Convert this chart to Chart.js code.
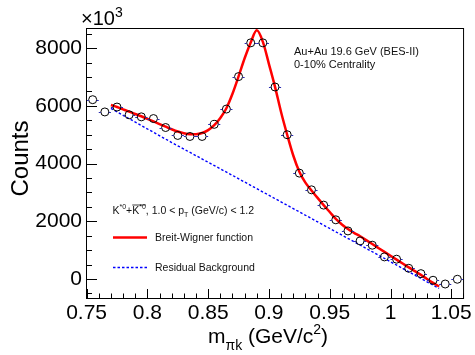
<!DOCTYPE html>
<html><head><meta charset="utf-8">
<script src="https://cdn.jsdelivr.net/npm/chart.js@4/dist/chart.umd.min.js"></script>
<style>html,body{margin:0;padding:0;background:#fff;}</style>
</head><body>
<canvas id="c" width="475" height="355"></canvas>
<script>
// ---- data ----
const massBins = [0.755,0.765,0.775,0.785,0.795,0.805,0.815,0.825,0.835,0.845,0.855,0.865,0.875,0.885,0.895,0.905,0.915,0.925,0.935,0.945,0.955,0.965,0.975,0.985,0.995,1.005,1.015,1.025,1.035,1.045,1.055];
const counts = [6215,5790,5960,5690,5620,5560,5250,4975,4940,4940,5360,5890,7015,8185,8185,6655,5000,3670,3090,2560,2050,1665,1320,1170,765,685,370,185,-45,-175,-10];
const binHalfWidth = 0.005;
const fitMass = [0.770,0.775,0.780,0.785,0.790,0.795,0.800,0.805,0.810,0.815,0.820,0.825,0.830,0.835,0.840,0.845,0.850,0.855,0.860,0.865,0.870,0.875,0.880,0.885,0.890,0.895,0.900,0.905,0.910,0.915,0.920,0.925,0.930,0.935,0.940,0.945,0.950,0.955,0.960,0.965,0.970,0.975,0.980,0.985,0.990,0.995,1.000,1.005,1.010,1.015,1.020,1.025,1.030,1.035,1.040];
const fitCounts = [6030,5960,5880,5800,5720,5640,5550,5460,5370,5280,5190,5110,5050,5020,5020,5060,5160,5330,5580,5920,6420,7020,7650,8200,8620,8220,7450,6660,5780,5000,4280,3720,3340,3070,2810,2560,2320,2080,1890,1730,1600,1480,1345,1210,1075,940,805,670,535,400,270,140,0,-135,-260];
const bkgMass = [0.770,0.820,0.870,0.920,0.970,1.040];
const bkgCounts = [5910,4730,3590,2440,1290,-330];
const xTickLabels = [0.75,0.8,0.85,0.9,0.95,1,1.05];
const yTickLabels = [0,2000,4000,6000,8000];

const FONT = '"Liberation Sans", Arial, Helvetica, sans-serif';

const pts = massBins.map((m,i)=>({x:m,y:counts[i]}));
const fit = fitMass.map((m,i)=>({x:m,y:fitCounts[i]}));
const bkg = bkgMass.map((m,i)=>({x:m,y:bkgCounts[i]}));

function drawParts(ctx, x, y, parts){
  for (const p of parts){
    ctx.font = p[1] + 'px ' + FONT;
    ctx.fillText(p[0], x, y + (p[2]||0));
    const w = ctx.measureText(p[0]).width;
    if (p[3]) {
      ctx.save(); ctx.lineWidth = 0.8; ctx.beginPath();
      ctx.moveTo(x, y - p[3]); ctx.lineTo(x + w + (p[4]||0), y - p[3]); ctx.stroke(); ctx.restore();
    }
    x += w;
  }
  return x;
}

const decor = {
  id: 'decor',
  afterDatasetsDraw(chart){
    const {ctx, scales:{x, y}} = chart;
    ctx.save();
    ctx.strokeStyle = '#2a2ab0'; ctx.lineWidth = 1;
    const r = 4;
    massBins.forEach((m,i)=>{
      const px = x.getPixelForValue(m), py = Math.round(y.getPixelForValue(counts[i]))+0.5;
      const pl = x.getPixelForValue(m-binHalfWidth), pr = x.getPixelForValue(m+binHalfWidth);
      ctx.beginPath();
      ctx.moveTo(pl, py); ctx.lineTo(px - r, py);
      ctx.moveTo(px + r, py); ctx.lineTo(pr, py);
      ctx.stroke();
    });
    ctx.restore();
  },
  afterDraw(chart){
    const {ctx, chartArea:a, scales:{x, y}} = chart;
    ctx.save();
    ctx.strokeStyle = '#000'; ctx.lineWidth = 1;
    ctx.strokeRect(a.left+0.5, a.top+0.5, a.right-a.left-1, a.bottom-a.top);
    ctx.beginPath();
    for (let k=0;k<=31;k++){
      const v = 0.75 + k*0.01;
      const px = Math.round(x.getPixelForValue(v))+0.5;
      if (px > a.right) break;
      const len = (k%5===0) ? 9 : 4.5;
      ctx.moveTo(px, a.bottom); ctx.lineTo(px, a.bottom - len);
    }
    for (let v=-500; v<=8500; v+=500){
      const py = Math.round(y.getPixelForValue(v))+0.5;
      if (py < a.top || py > a.bottom) continue;
      const len = (v%2000===0) ? 11 : 6;
      ctx.moveTo(a.left, py); ctx.lineTo(a.left + len, py);
    }
    ctx.stroke();

    ctx.fillStyle = '#000';
    ctx.textAlign = 'left'; ctx.textBaseline = 'alphabetic';
    drawParts(ctx, 81, 25, [['\u00d710',20,0],['3',14,-8]]);
    drawParts(ctx, 208, 343, [['m',21,0],['\u03c0k',14,7],[' (GeV/c',21,0],['2',14,-9],[')',21,0]]);
    ctx.save();
    ctx.translate(28, 158.5); ctx.rotate(-Math.PI/2);
    ctx.textAlign = 'center'; ctx.font = '24px ' + FONT;
    ctx.fillText('Counts', 0, 0);
    ctx.restore();

    ctx.fillStyle = '#111';
    ctx.font = '11px ' + FONT;
    ctx.fillText('Au+Au 19.6 GeV (BES-II)', 294, 55);
    ctx.fillText('0-10% Centrality', 294, 68);

    ctx.strokeStyle = '#111';
    drawParts(ctx, 112.5, 214, [['K',10.5,0],['*0',7,-5],['+',10.5,0],['K',10.5,0,9,0],['*0',7,-5,9],[', 1.0 < p',10.5,0],['T',7,3],[' (GeV/c) < 1.2',10.5,0]]);
    ctx.font = '10.5px ' + FONT;
    ctx.fillText('Breit-Wigner function', 155, 241);
    ctx.fillText('Residual Background', 155, 271);
    ctx.strokeStyle = '#ff0000'; ctx.lineWidth = 2.5;
    ctx.beginPath(); ctx.moveTo(113, 237.5); ctx.lineTo(147, 237.5); ctx.stroke();
    ctx.strokeStyle = '#0000ff'; ctx.lineWidth = 1.5; ctx.setLineDash([2.5,2]);
    ctx.beginPath(); ctx.moveTo(113, 267.5); ctx.lineTo(147, 267.5); ctx.stroke();
    ctx.restore();
  }
};

new Chart(document.getElementById('c'), {
  type: 'scatter',
  data: { datasets: [
    { label:'data', data: pts, showLine:false, pointStyle:'circle', pointRadius:4, pointHoverRadius:4,
      borderColor:'#000', backgroundColor:'rgba(0,0,0,0)', pointBorderWidth:1, borderWidth:1 },
    { label:'Breit-Wigner function', data: fit, showLine:true, borderColor:'#ff0000', borderWidth:2.5,
      pointRadius:0, cubicInterpolationMode:'monotone', fill:false },
    { label:'Residual Background', data: bkg, showLine:true, borderColor:'#0000ff', borderWidth:1.4,
      borderDash:[2.5,2], pointRadius:0, tension:0, fill:false }
  ]},
  options: {
    responsive:false, animation:false, devicePixelRatio:1,
    layout:{ padding:{ top:28, right:8, left:0, bottom:0 } },
    plugins:{ legend:{display:false}, tooltip:{enabled:false}, title:{display:false} },
    scales:{
      x:{ type:'linear', min:0.7495, max:1.0605,
        grid:{display:false, drawTicks:false}, border:{display:false},
        afterBuildTicks:(s)=>{ s.ticks = xTickLabels.map(v=>({value:v})); },
        afterFit:(s)=>{ s.height = 57; },
        ticks:{ padding:3, color:'#000', font:{family:FONT, size:21}, maxRotation:0, autoSkip:false,
          callback:(v)=>String(v) } },
      y:{ type:'linear', min:-660, max:8700,
        grid:{display:false, drawTicks:false}, border:{display:false},
        afterBuildTicks:(s)=>{ s.ticks = yTickLabels.map(v=>({value:v})); },
        afterFit:(s)=>{ s.width = 86; },
        ticks:{ padding:4, color:'#000', font:{family:FONT, size:21}, autoSkip:false,
          callback:(v)=>String(v) } }
    }
  },
  plugins:[decor]
});
</script>
</body></html>
